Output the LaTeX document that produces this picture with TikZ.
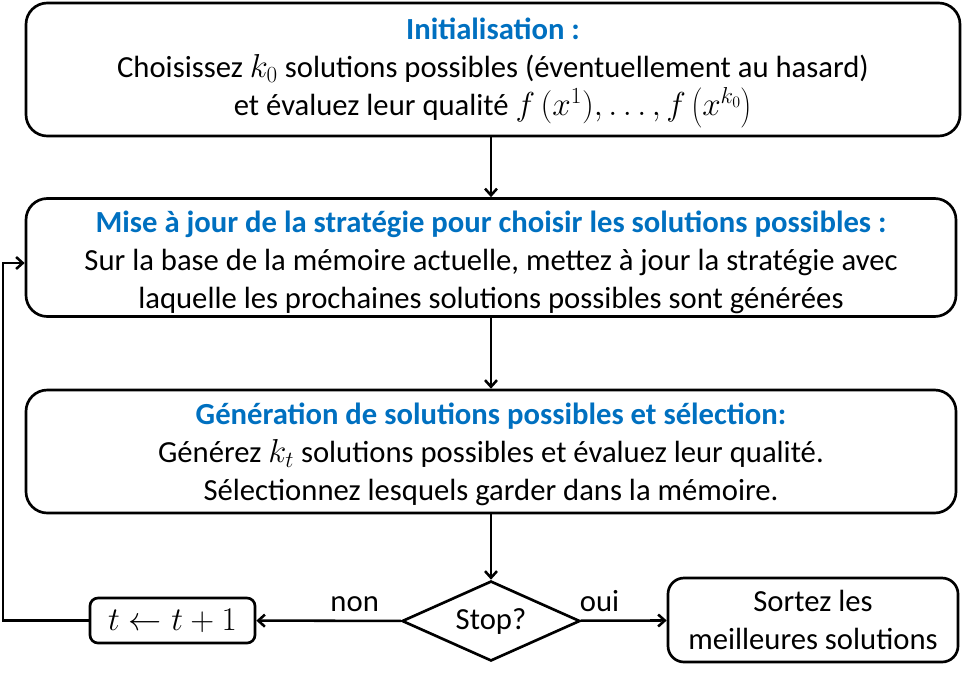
\documentclass[tikz,border=0pt]{standalone}
\usepackage{fontspec}
\setmainfont{Carlito}
\usetikzlibrary{shapes.geometric,arrows.meta}
\definecolor{titleblue}{RGB}{0,112,192}
\begin{document}
\begin{tikzpicture}[x=0.75pt,y=-0.75pt,
  every node/.style={font=\fontsize{23}{28.6}\selectfont},
  bigbox/.style={draw, line width=2pt, rounded corners=16pt, inner sep=0pt},
  boxtext/.style={align=center, inner sep=0pt},
  smallbox/.style={draw, line width=2pt, rounded corners=6pt, align=center, inner sep=0pt},
  decision/.style={draw, line width=2pt, diamond, aspect=2.2, inner sep=0pt},
  arr/.style={line width=1.9pt, -{Straight Barb[length=5pt,width=9pt,line width=1.9pt]}},
  lbl/.style={inner sep=0pt}]
\useasboundingbox (0,0) rectangle (962,678);
\node[bigbox, minimum width=934*0.75pt, minimum height=133*0.75pt] (init) at (493,69.5) {};
\node[boxtext] (initT) at ([yshift=-2.5pt]init.center)
  {{\color{titleblue}\bfseries Initialisation :}\\
   Choisissez $k_0$ solutions possibles (éventuellement au hasard)\\
   et évaluez leur qualité $f\,(x^1), \dots, f\left(x^{k_0}\right)$};
\node[bigbox, minimum width=930*0.75pt, minimum height=118*0.75pt] (upd) at (491,257.5) {};
\node[boxtext] (updT) at ([yshift=-3.5pt]upd.center)
  {{\color{titleblue}\bfseries Mise à jour de la stratégie pour choisir les solutions possibles :}\\
   Sur la base de la mémoire actuelle, mettez à jour la stratégie avec\\
   laquelle les prochaines solutions possibles sont générées};
\node[bigbox, minimum width=930*0.75pt, minimum height=123*0.75pt] (gen) at (491,451.5) {};
\node[boxtext] (genT) at ([yshift=-2pt]gen.center)
  {{\color{titleblue}\bfseries Génération de solutions possibles et sélection:}\\
   Générez $k_t$ solutions possibles et évaluez leur qualité.\\
   Sélectionnez lesquels garder dans la mémoire.};
\node[decision, minimum width=178*0.75pt, minimum height=80*0.75pt] (stop) at (491,621) {Stop?};
\node[smallbox, minimum width=165*0.75pt, minimum height=45*0.75pt] (inc) at (172.5,620.5) {$t \leftarrow t+1$};
\node[bigbox, rounded corners=12pt, align=center, minimum width=290*0.75pt, minimum height=84*0.75pt] (out) at (813,620)
  {Sortez les\\meilleures solutions};
\coordinate (loopL) at (3,263);
\draw[arr] (init.south -| 491,0) -- (upd.north -| 491,0);
\draw[arr] (upd) -- (gen);
\draw[arr] (gen) -- (stop);
\draw[arr] (stop) -- node[lbl, above=6pt, pos=0.32] (non) {non} (inc);
\draw[arr] (stop) -- node[lbl, above=6pt, pos=0.22] (oui) {oui} (out);
\draw[arr] (inc.west) -| (loopL) -- (loopL -| upd.west);
\end{tikzpicture}
\end{document}
